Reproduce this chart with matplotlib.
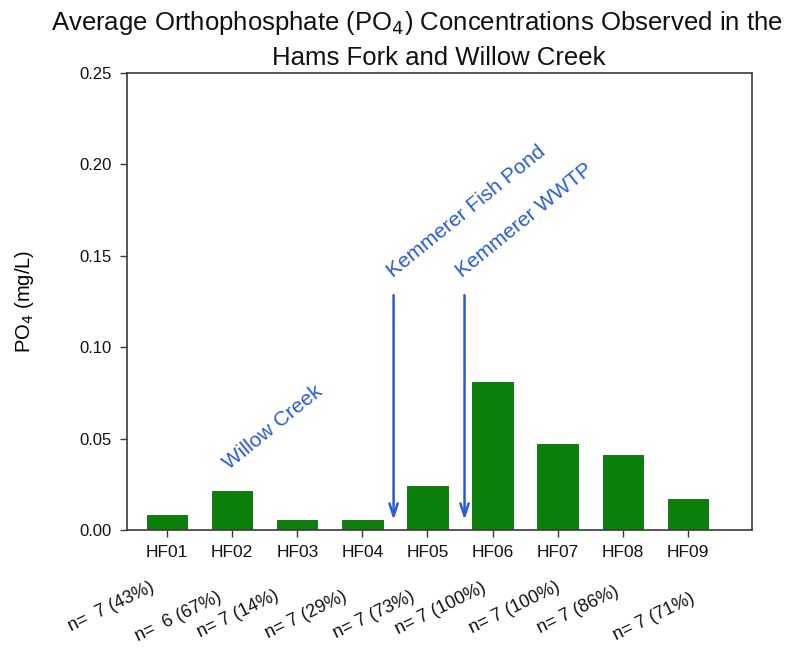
import matplotlib
matplotlib.use("Agg")
import matplotlib.pyplot as plt
from matplotlib.transforms import blended_transform_factory

plt.rcParams["font.family"] = ["Liberation Sans", "DejaVu Sans"]

# Sampling sites and mean orthophosphate values (mg/L)
sites = ["HF01", "HF02", "HF03", "HF04", "HF05", "HF06", "HF07", "HF08", "HF09"]
po4_mean = [0.0082, 0.0215, 0.0055, 0.0055, 0.0240, 0.0810, 0.0470, 0.0410, 0.0168]

# Sample counts and percent of samples above detection
n_samples = [7, 6, 7, 7, 7, 7, 7, 7, 7]
pct_detect = [43, 67, 14, 29, 73, 100, 100, 86, 71]

# Inflows entering between sites
inflow_labels = ["Kemmerer Fish Pond", "Kemmerer WWTP"]
inflow_x = [4.48, 5.57]

y_ticks = [0.00, 0.05, 0.10, 0.15, 0.20, 0.25]

blue = "#2a5ad8"
green = "#0a7f0a"
spine_col = "#3a3a3a"

fig = plt.figure(figsize=(7.92, 6.49), dpi=100)
ax = fig.add_axes([0.1604, 0.1834, 0.789, 0.7041])

pos = list(range(1, len(sites) + 1))
ax.bar(pos, po4_mean, width=0.62, color=green, edgecolor="#086a08", linewidth=0.6, zorder=2)

ax.set_xlim(0.385, 9.985)
ax.set_ylim(0, 0.25)
ax.set_yticks(y_ticks)
ax.set_yticklabels([f"{v:.2f}" for v in y_ticks])
ax.set_xticks(pos)
ax.set_xticklabels(sites)
ax.tick_params(axis="both", direction="out", length=5, width=1.0, color=spine_col,
               labelcolor="#111111")
ax.tick_params(axis="x", pad=6, labelsize=12.5)
ax.tick_params(axis="y", pad=6, labelsize=12)
for s in ax.spines.values():
    s.set_color(spine_col)
    s.set_linewidth(1.2)

ax.set_ylabel("PO$_4$ (mg/L)", fontsize=14.5)
ax.yaxis.set_label_coords(-0.146, 0.5)

# Sample-size notes below the site names
trans = blended_transform_factory(ax.transData, ax.transAxes)
n_x_off = [-0.86, -0.83, -0.91, -0.86, -0.82, -0.80, -0.66, -0.69, -0.52]
n_y = [-0.168, -0.190, -0.184, -0.186, -0.186, -0.173, -0.171, -0.175, -0.190]
for p, n, pc, dx, yy in zip(pos, n_samples, pct_detect, n_x_off, n_y):
    sp = "  " if p in (1, 2) else " "
    ax.text(p + dx, yy, f"n={sp}{n} ({pc}%)", transform=trans, rotation=26,
            ha="center", va="center", fontsize=13, color="#111111", clip_on=False)

# Inflow arrows
for x in inflow_x:
    ax.annotate("", xy=(x, 0.004), xytext=(x, 0.130),
                arrowprops=dict(arrowstyle="->,head_length=0.9,head_width=0.3",
                                color=blue, lw=1.8))

ax.text(2.63, 0.0563, "Willow Creek", color=blue, fontsize=15, rotation=39,
        ha="center", va="center")
ax.text(5.60, 0.174, inflow_labels[0], color=blue, fontsize=15, rotation=39,
        ha="center", va="center")
ax.text(6.49, 0.1696, inflow_labels[1], color=blue, fontsize=15, rotation=39,
        ha="center", va="center")

fig.text(417 / 792, 1 - 23 / 649, "Average Orthophosphate (PO$_4$) Concentrations Observed in the",
         ha="center", va="center", fontsize=18.5, color="#111111")
fig.text(439 / 792, 1 - 58 / 649, "Hams Fork and Willow Creek",
         ha="center", va="center", fontsize=18.5, color="#111111")

fig.savefig("out.png", dpi=100, facecolor="white")
